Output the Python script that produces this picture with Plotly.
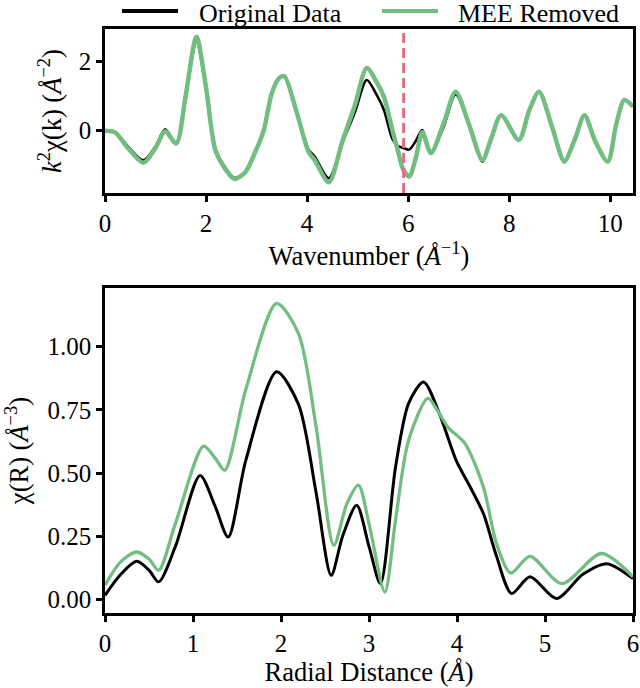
import plotly.graph_objects as go

# ---- Top panel data: k-space ----
k_vals = [0.0, 0.2, 0.45, 0.76, 1.0, 1.19, 1.41, 1.6, 1.81, 2.0, 2.18, 2.35, 2.56, 2.78, 2.95,
          3.14, 3.3, 3.45, 3.55, 3.8, 4.03, 4.15, 4.43, 4.7, 4.95, 5.18, 5.39, 5.52, 5.69, 5.8,
          5.9, 6.02, 6.15, 6.28, 6.45, 6.7, 6.94, 7.2, 7.47, 7.65, 7.84, 8.19, 8.4, 8.59, 8.85,
          9.09, 9.3, 9.49, 9.7, 9.95, 10.12, 10.28, 10.45]
k_original = [0.0, -0.05, -0.45, -0.86, -0.45, 0.04, -0.37, 1.0, 2.58, 1.2, -0.5, -1.0, -1.37, -1.2, -0.7,
              0.02, 1.08, 1.53, 1.58, 0.5, -0.55, -0.75, -1.38, -0.35, 0.55, 1.47, 1.0, 0.6, -0.25, -0.45,
              -0.5, -0.55, -0.3, 0.02, -0.65, 0.1, 1.05, 0.2, -0.9, -0.2, 0.45, -0.27, 0.6, 1.13, 0.1,
              -0.92, -0.2, 0.45, -0.3, -0.9, 0.2, 0.89, 0.7]
k_removed = [0.0, -0.05, -0.5, -0.93, -0.5, -0.02, -0.37, 1.05, 2.72, 1.25, -0.55, -1.05, -1.4, -1.2, -0.7,
             0.0, 1.08, 1.53, 1.58, 0.5, -0.62, -0.85, -1.5, -0.3, 0.75, 1.82, 1.37, 0.98, 0.0, -0.6,
             -1.12, -1.33, -0.8, -0.05, -0.65, 0.2, 1.13, 0.2, -0.85, -0.2, 0.45, -0.27, 0.6, 1.13, 0.1,
             -0.88, -0.25, 0.45, -0.3, -0.9, 0.2, 0.89, 0.7]
k_cut = 5.91

# ---- Bottom panel data: R-space ----
r_original_x = [0.0, 0.18, 0.36, 0.5, 0.61, 0.8, 1.08, 1.25, 1.40, 1.6, 1.95, 2.2, 2.4, 2.57, 2.7,
                2.86, 3.0, 3.13, 3.3, 3.45, 3.62, 3.8, 3.99, 4.15, 4.3, 4.45, 4.62, 4.83, 5.13, 5.43,
                5.70, 6.0]
r_original = [0.017, 0.10, 0.151, 0.116, 0.07, 0.21, 0.49, 0.37, 0.247, 0.55, 0.90, 0.77, 0.42, 0.096, 0.25,
              0.373, 0.21, 0.063, 0.52, 0.775, 0.86, 0.735, 0.55, 0.445, 0.34, 0.17, 0.024, 0.09, 0.004, 0.10,
              0.142, 0.083]
r_removed_x = [0.0, 0.18, 0.36, 0.5, 0.61, 0.8, 1.12, 1.25, 1.36, 1.6, 1.95, 2.2, 2.4, 2.6, 2.75,
               2.88, 3.0, 3.18, 3.3, 3.45, 3.67, 3.79, 3.9, 4.09, 4.30, 4.45, 4.61, 4.83, 5.19, 5.64,
               6.0]
r_removed = [0.057, 0.15, 0.188, 0.16, 0.116, 0.3, 0.606, 0.56, 0.511, 0.83, 1.17, 1.05, 0.68, 0.215, 0.38,
             0.452, 0.30, 0.03, 0.31, 0.63, 0.795, 0.74, 0.68, 0.617, 0.445, 0.22, 0.105, 0.171, 0.063, 0.182,
             0.09]

series_names = ["Original Data", "MEE Removed"]

BLACK = "#000000"
GREEN = "#72bd80"
RED = "#e2707c"
FONT = "'Liberation Serif', 'Times New Roman', 'DejaVu Serif', serif"
FS = 25
FS_TITLE = 26.5
FS_LEG = 26

W, H = 640, 688

fig = go.Figure()

fig.add_trace(go.Scatter(x=k_vals, y=k_original, mode="lines", name=series_names[0],
                         line=dict(color=BLACK, width=2.5, shape="spline", smoothing=0.8),
                         xaxis="x", yaxis="y"))
fig.add_trace(go.Scatter(x=k_vals, y=k_removed, mode="lines", name=series_names[1],
                         line=dict(color=GREEN, width=4.5, shape="spline", smoothing=0.8),
                         xaxis="x", yaxis="y"))
fig.add_trace(go.Scatter(x=r_original_x, y=r_original, mode="lines", name=series_names[0],
                         line=dict(color=BLACK, width=3, shape="spline", smoothing=0.8),
                         xaxis="x2", yaxis="y2"))
fig.add_trace(go.Scatter(x=r_removed_x, y=r_removed, mode="lines", name=series_names[1],
                         line=dict(color=GREEN, width=3.3, shape="spline", smoothing=0.8),
                         xaxis="x2", yaxis="y2"))

fig.add_shape(type="line", x0=k_cut, x1=k_cut, y0=0, y1=1, xref="x", yref="y domain",
              line=dict(color=RED, width=3, dash="10px,5px"))

# Manual legend (line samples + text labels) above the top panel
leg_y = 1 - 11 / H
for (x0, x1, tx), name, col in zip([(122, 178, 198), (382, 438, 457)], series_names, [BLACK, GREEN]):
    fig.add_shape(type="line", xref="paper", yref="paper", x0=x0 / W, x1=x1 / W, y0=leg_y, y1=leg_y,
                  line=dict(color=col, width=4))
    fig.add_annotation(text=name, xref="paper", yref="paper", x=tx / W, y=1 - 13.5 / H,
                       xanchor="left", yanchor="middle", showarrow=False, borderpad=0,
                       font=dict(family=FONT, size=FS_LEG, color="black"))

axis_common = dict(showline=True, linecolor="black", linewidth=2.5, mirror=True,
                   ticks="outside", ticklen=6, tickwidth=2.5, tickcolor="black",
                   showgrid=False, zeroline=False, automargin=False,
                   tickfont=dict(family=FONT, size=FS, color="black"))
title_font = dict(family=FONT, size=FS_TITLE, color="black")

xd = [105 / W, 633 / W]
fig.update_layout(
    width=W, height=H,
    margin=dict(l=0, r=0, t=0, b=0),
    paper_bgcolor="white", plot_bgcolor="white",
    font=dict(family=FONT, size=FS, color="black"),
    showlegend=False,
    xaxis=dict(domain=xd, range=[0, 10.45], dtick=2, anchor="y",
               title=dict(text="Wavenumber (<i>Å</i><sup>−1</sup>)", font=title_font, standoff=0),
               **axis_common),
    yaxis=dict(domain=[1 - 193 / H, 1 - 29 / H], range=[-1.81, 2.95], dtick=2, anchor="x",
               title=dict(text="<i>k</i><sup>2</sup>χ(k) (<i>Å</i><sup>−2</sup>)", font=title_font, standoff=10),
               **axis_common),
    xaxis2=dict(domain=xd, range=[0, 6], dtick=1, anchor="y2",
                title=dict(text="Radial Distance (<i>Å</i>)", font=title_font, standoff=1),
                **axis_common),
    yaxis2=dict(domain=[1 - 613 / H, 1 - 288 / H], range=[-0.053, 1.231], dtick=0.25,
                tickformat=".2f", anchor="x2",
                title=dict(text="χ(R) (<i>Å</i><sup>−3</sup>)", font=title_font, standoff=15),
                **axis_common),
)

fig.write_html("out.html", config={"displayModeBar": False},
               post_script="document.body.style.margin='0';")
